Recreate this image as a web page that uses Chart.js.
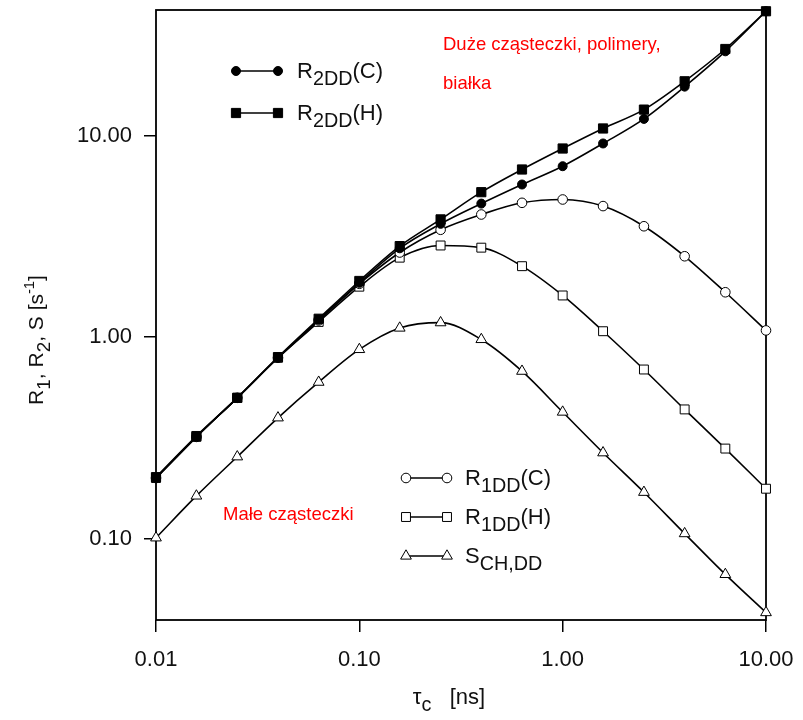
<!DOCTYPE html>
<html>
<head>
<meta charset="utf-8">
<script src="https://cdn.jsdelivr.net/npm/chart.js@4"></script>
<style>
  body { margin: 0; background: #fff; }
  canvas { display: block; }
</style>
</head>
<body>
<canvas id="c" width="803" height="720"></canvas>
<script>
// tau_c [ns], 5 points per decade
const tau = [0.01, 0.0158, 0.0251, 0.0398, 0.0631, 0.1, 0.158, 0.251, 0.398, 0.631, 1, 1.58, 2.51, 3.98, 6.31, 10];

// rates [s^-1]
const r2C = [0.20, 0.32, 0.50, 0.79, 1.22, 1.86, 2.76, 3.65, 4.60, 5.72, 7.05, 9.14, 12.1, 17.5, 26.2, 41.4];
const r2H = [0.202, 0.323, 0.50, 0.796, 1.234, 1.90, 2.83, 3.84, 5.24, 6.79, 8.63, 10.85, 13.46, 18.6, 26.9, 41.4];
const r1C = [0.20, 0.32, 0.50, 0.79, 1.21, 1.84, 2.63, 3.41, 4.06, 4.64, 4.82, 4.47, 3.55, 2.52, 1.67, 1.08];
const r1H = [0.20, 0.32, 0.50, 0.79, 1.19, 1.78, 2.48, 2.85, 2.78, 2.25, 1.61, 1.07, 0.691, 0.438, 0.28, 0.177];
const sCH = [0.101, 0.163, 0.255, 0.398, 0.598, 0.869, 1.11, 1.18, 0.974, 0.678, 0.425, 0.267, 0.170, 0.106, 0.0665, 0.043];

const xTicks = [0.01, 0.1, 1, 10];
const xTickLabels = ["0.01", "0.10", "1.00", "10.00"];
const yTicks = [0.1, 1, 10];
const yTickLabels = ["0.10", "1.00", "10.00"];

const FONT = "'Liberation Sans', Arial, sans-serif";

function pts(ys) {
    return tau.map((x, i) => ({ x: x, y: ys[i] }));
}

function series(label, ys, style, filled, radius, order) {
    return {
        label: label,
        data: pts(ys),
        borderColor: "#000",
        borderWidth: 1.6,
        pointStyle: style,
        pointRadius: radius,
        pointBorderWidth: 1,
        pointBorderColor: "#000",
        pointBackgroundColor: filled ? "#000" : "#fff",
        cubicInterpolationMode: "monotone",
        clip: false,
        order: order
    };
}

// text with sub/superscripts: parts = [[text, kind]] kind: "", "sub", "sup"
function sizeOf(kind, size) {
    if (kind === "sub") return size * 0.9;
    if (kind === "sup") return size * 0.7;
    return size;
}

function rich(ctx, x, y, parts, size) {
    let cx = x;
    parts.forEach(([t, kind]) => {
        let dy = 0;
        if (kind === "sub") dy = size * 0.32;
        if (kind === "sup") dy = -size * 0.45;
        ctx.font = sizeOf(kind, size) + "px " + FONT;
        ctx.fillText(t, cx, y + dy);
        cx += ctx.measureText(t).width;
    });
    return cx - x;
}

function richWidth(ctx, parts, size) {
    let w = 0;
    parts.forEach(([t, kind]) => {
        ctx.font = sizeOf(kind, size) + "px " + FONT;
        w += ctx.measureText(t).width;
    });
    return w;
}

const extras = {
    id: "extras",
    beforeDatasetsDraw(chart) {
        const { ctx, chartArea: a } = chart;
        ctx.save();
        ctx.strokeStyle = "#000";
        ctx.lineWidth = 1.8;
        ctx.strokeRect(a.left, a.top, a.right - a.left, a.bottom - a.top);
        ctx.restore();
    },
    afterDatasetsDraw(chart) {
        const ctx = chart.ctx;
        ctx.save();
        ctx.textBaseline = "alphabetic";
        ctx.textAlign = "left";

        // legends
        const legend = (ds, x1, x2, y, tx, parts) => {
            ctx.strokeStyle = "#000";
            ctx.lineWidth = 1.6;
            ctx.beginPath();
            ctx.moveTo(x1, y);
            ctx.lineTo(x2, y);
            ctx.stroke();
            const o = {
                pointStyle: ds.pointStyle, radius: ds.pointRadius, rotation: 0, borderWidth: 1
            };
            ctx.fillStyle = ds.pointBackgroundColor;
            ctx.strokeStyle = "#000";
            ctx.lineWidth = 1;
            Chart.helpers.drawPoint(ctx, o, x1, y);
            Chart.helpers.drawPoint(ctx, o, x2, y);
            ctx.fillStyle = "#111";
            rich(ctx, tx, y + 7, parts, 22);
        };
        const d = chart.data.datasets;
        legend(d[0], 236, 278, 71, 297, [["R", ""], ["2DD", "sub"], ["(C)", ""]]);
        legend(d[1], 236, 278, 113, 297, [["R", ""], ["2DD", "sub"], ["(H)", ""]]);
        legend(d[2], 406, 447, 478, 465, [["R", ""], ["1DD", "sub"], ["(C)", ""]]);
        legend(d[3], 406, 447, 517, 465, [["R", ""], ["1DD", "sub"], ["(H)", ""]]);
        legend(d[4], 406, 447, 556, 465, [["S", ""], ["CH,DD", "sub"]]);

        // annotations
        ctx.fillStyle = "#ff0000";
        ctx.font = "18.5px " + FONT;
        ctx.fillText("Duże cząsteczki, polimery,", 443, 50);
        ctx.fillText("białka", 443, 89);
        ctx.fillText("Małe cząsteczki", 223, 520);

        // x title
        ctx.fillStyle = "#111";
        const xp = [["τ", ""], ["c", "sub"], ["   [ns]", ""]];
        const xw = richWidth(ctx, xp, 22);
        rich(ctx, 449 - xw / 2, 704, xp, 22);

        // y title
        const yp = [["R", ""], ["1", "sub"], [", R", ""], ["2", "sub"], [", S [s", ""], ["-1", "sup"], ["]", ""]];
        const yw = richWidth(ctx, yp, 21);
        ctx.translate(43, 340);
        ctx.rotate(-Math.PI / 2);
        rich(ctx, -yw / 2, 0, yp, 21);
        ctx.restore();
    }
};

new Chart(document.getElementById("c"), {
    type: "line",
    data: {
        datasets: [
            series("R2DD(C)", r2C, "circle", true, 4.5, 1),
            series("R2DD(H)", r2H, "rect", true, 6.5, 0),
            series("R1DD(C)", r1C, "circle", false, 4.8, 2),
            series("R1DD(H)", r1H, "rect", false, 6.3, 3),
            series("SCH,DD", sCH, "triangle", false, 6.2, 4)
        ]
    },
    options: {
        responsive: false,
        animation: false,
        devicePixelRatio: 1,
        layout: { padding: { top: 10, right: 37, left: 0, bottom: 0 } },
        plugins: { legend: { display: false }, tooltip: { enabled: false } },
        scales: {
            x: {
                type: "logarithmic",
                min: 0.01,
                max: 10,
                afterBuildTicks: s => { s.ticks = xTicks.map(v => ({ value: v })); },
                afterFit: s => { s.height = 100; s.paddingLeft = 0; s.paddingRight = 0; },
                grid: { drawOnChartArea: false, tickLength: 12, color: "#000", lineWidth: 1.5 },
                border: { display: false },
                ticks: {
                    autoSkip: false,
                    maxRotation: 0,
                    padding: 15,
                    color: "#111",
                    font: { family: FONT, size: 22 },
                    callback: v => xTickLabels[xTicks.indexOf(v)]
                }
            },
            y: {
                type: "logarithmic",
                min: 0.0395,
                max: 42,
                afterBuildTicks: s => { s.ticks = yTicks.map(v => ({ value: v })); },
                afterFit: s => { s.width = 156; s.paddingTop = 0; s.paddingBottom = 0; },
                grid: { drawOnChartArea: false, tickLength: 12, color: "#000", lineWidth: 1.5 },
                border: { display: false },
                ticks: {
                    autoSkip: false,
                    padding: 12,
                    color: "#111",
                    font: { family: FONT, size: 22 },
                    callback: v => yTickLabels[yTicks.indexOf(v)]
                }
            }
        }
    },
    plugins: [extras]
});
</script>
</body>
</html>
